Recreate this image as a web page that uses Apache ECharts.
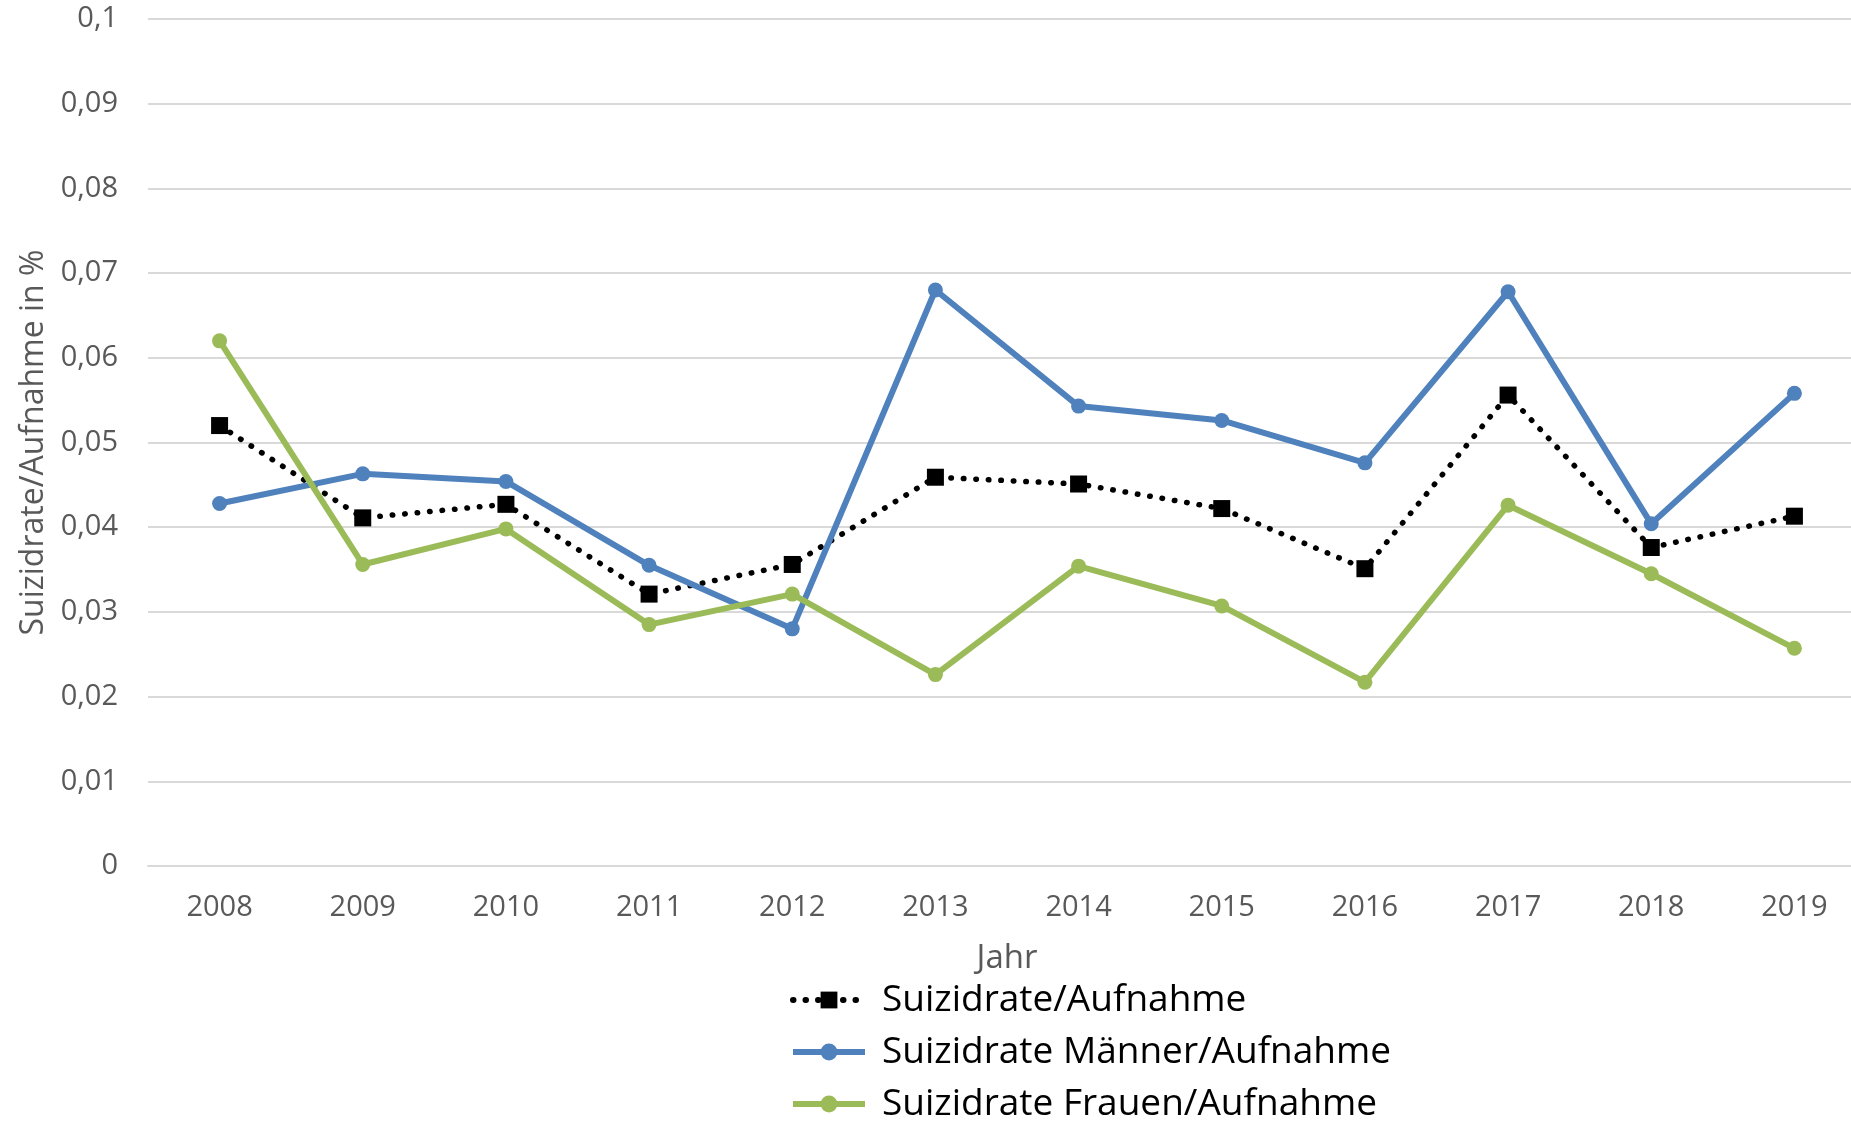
<!DOCTYPE html>
<html>
<head>
<meta charset="utf-8">
<script src="https://cdn.jsdelivr.net/npm/echarts@6/dist/echarts.min.js"></script>
<style>
  html, body { margin: 0; padding: 0; background: #fff; }
  #chart { width: 1851px; height: 1121px; }
</style>
</head>
<body>
<div id="chart"></div>
<script>
// Years on the category axis
const years = ['2008', '2009', '2010', '2011', '2012', '2013', '2014', '2015', '2016', '2017', '2018', '2019'];

// Suicide rate per admission, in percent
const rateTotal = [0.0520, 0.0411, 0.0427, 0.0321, 0.0356, 0.0459, 0.0451, 0.0422, 0.0351, 0.0556, 0.0376, 0.0413];
const rateMen   = [0.0428, 0.0463, 0.0454, 0.0355, 0.0280, 0.0680, 0.0543, 0.0526, 0.0476, 0.0678, 0.0404, 0.0558];
const rateWomen = [0.0620, 0.0356, 0.0398, 0.0285, 0.0321, 0.0226, 0.0354, 0.0307, 0.0217, 0.0426, 0.0345, 0.0257];

const seriesNames = ['Suizidrate/Aufnahme', 'Suizidrate Männer/Aufnahme', 'Suizidrate Frauen/Aufnahme'];

const FONT = '"Open Sans", sans-serif';
const GRAY_TEXT = '#595959';
const GRID_LINE = '#D9D9D9';

const chart = echarts.init(document.getElementById('chart'), null, { renderer: 'canvas' });

chart.setOption({
  animation: false,
  backgroundColor: '#ffffff',
  textStyle: { fontFamily: FONT },
  // plot area runs slightly past the right edge of the canvas
  grid: {
    left: 148, width: 1718, top: 19, height: 847,
    containLabel: false, outerBoundsMode: 'none'
  },
  xAxis: {
    type: 'category',
    data: years,
    boundaryGap: true,
    name: 'Jahr',
    nameLocation: 'middle',
    nameGap: 76,
    nameTextStyle: { fontFamily: FONT, fontSize: 33, color: GRAY_TEXT },
    axisLine: { lineStyle: { color: GRID_LINE, width: 2 } },
    axisTick: { show: false },
    axisLabel: { fontFamily: FONT, fontSize: 29, color: GRAY_TEXT, margin: 27 }
  },
  yAxis: {
    type: 'value',
    min: 0,
    max: 0.1,
    interval: 0.01,
    name: 'Suizidrate/Aufnahme in %',
    nameLocation: 'middle',
    nameGap: 97,
    nameTextStyle: { fontFamily: FONT, fontSize: 32, color: GRAY_TEXT },
    axisLine: { show: false },
    axisTick: { show: false },
    splitLine: { lineStyle: { color: GRID_LINE, width: 2 } },
    axisLabel: {
      fontFamily: FONT, fontSize: 29, color: GRAY_TEXT, margin: 30,
      formatter: v => String(parseFloat(v.toFixed(2))).replace('.', ',')
    }
  },
  legend: {
    orient: 'vertical',
    left: 785,
    top: 975,
    height: 300,
    itemWidth: 72,
    itemHeight: 21,
    itemGap: 12,
    lineStyle: { width: 6 },
    textStyle: { fontFamily: FONT, fontSize: 37, color: '#000000', lineHeight: 40, padding: [0, 0, 0, 12] },
    data: seriesNames
  },
  series: [
    {
      name: seriesNames[0],
      type: 'line',
      data: rateTotal,
      symbol: 'rect',
      symbolSize: 17,
      itemStyle: { color: '#000000' },
      lineStyle: { color: '#000000', width: 5.5, type: [0.5, 12], cap: 'round' }
    },
    {
      name: seriesNames[1],
      type: 'line',
      data: rateMen,
      symbol: 'circle',
      symbolSize: 15,
      itemStyle: { color: '#4F81BD' },
      lineStyle: { color: '#4F81BD', width: 6 }
    },
    {
      name: seriesNames[2],
      type: 'line',
      data: rateWomen,
      symbol: 'circle',
      symbolSize: 15,
      itemStyle: { color: '#9BBB59' },
      lineStyle: { color: '#9BBB59', width: 6 }
    }
  ]
});
</script>
</body>
</html>
